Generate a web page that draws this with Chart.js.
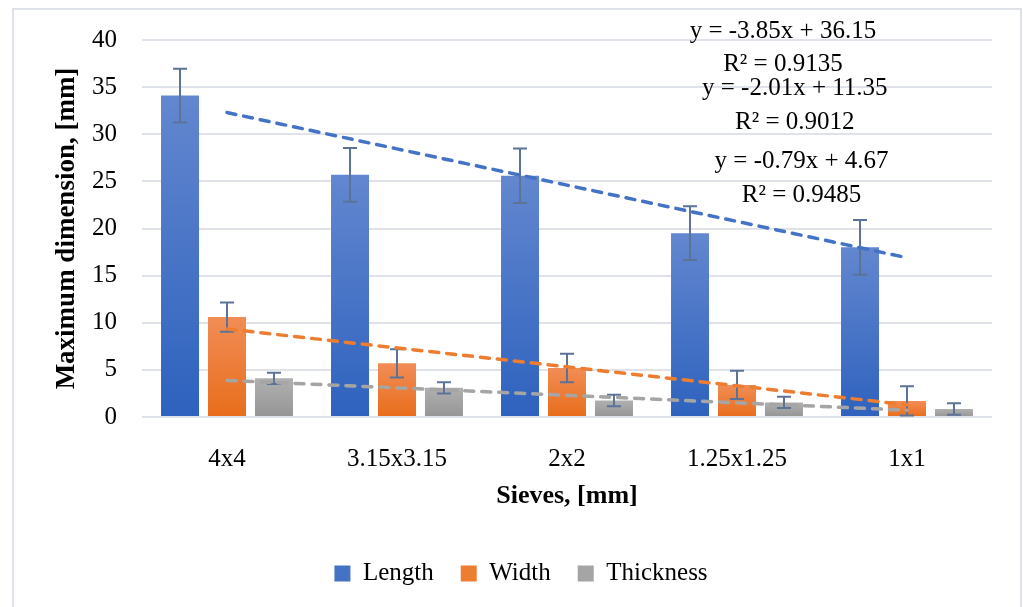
<!DOCTYPE html>
<html>
<head>
<meta charset="utf-8">
<script src="https://cdn.jsdelivr.net/npm/chart.js@4.4.1/dist/chart.umd.min.js"></script>
<style>
    html, body { margin: 0; padding: 0; background: #fff; overflow: hidden; }
    #frame { position: absolute; left: 12px; top: 8px; width: 1006px; height: 640px; border: 2px solid #dfe2e8; }
    #wrap { position: absolute; left: 0; top: 0; width: 1023px; height: 607px; }
</style>
</head>
<body>
<div id="frame"></div>
<div id="wrap"><canvas id="chart" width="1023" height="607"></canvas></div>
<script>
// values
const sieves = ['4x4', '3.15x3.15', '2x2', '1.25x1.25', '1x1'];

const lengthMean = [34.1, 25.7, 25.6, 19.5, 18.0];
const lengthErr = [2.85, 2.85, 2.9, 2.85, 2.9];
const widthMean = [10.6, 5.7, 5.2, 3.4, 1.7];
const widthErr = [1.55, 1.5, 1.5, 1.5, 1.55];
const thicknessMean = [4.1, 3.1, 1.75, 1.55, 0.85];
const thicknessErr = [0.6, 0.6, 0.6, 0.6, 0.6];

// linear trend lines as drawn in the picture
const lengthTrend = [32.3, 28.45, 24.6, 20.75, 16.9];
const widthTrend = [9.34, 7.33, 5.32, 3.31, 1.3];
const thicknessTrend = [3.88, 3.09, 2.3, 1.51, 0.72];

const trendText = [
    'y = -3.85x + 36.15', 'R² = 0.9135',
    'y = -2.01x + 11.35', 'R² = 0.9012',
    'y = -0.79x + 4.67', 'R² = 0.9485'
];

const yMin = 0;
const yMax = 40;
const yStep = 5;

const serif = '"Liberation Serif", "Times New Roman", serif';
const legendColors = ['#4472c4', '#ed7d31', '#a5a5a5'];

function barGradient(top, bottom) {
    return (ctx) => {
        const chart = ctx.chart;
        if (!chart.chartArea || ctx.type !== 'data' || !chart.scales.y) return bottom;
        const yTop = chart.scales.y.getPixelForValue(ctx.raw);
        const yBase = chart.scales.y.getPixelForValue(0);
        if (!isFinite(yTop) || yBase - yTop < 1) return bottom;
        const g = chart.ctx.createLinearGradient(0, yTop, 0, yBase);
        g.addColorStop(0, top);
        g.addColorStop(1, bottom);
        return g;
    };
}

const errorBars = {
    id: 'errorBars',
    afterDatasetDraw(chart, args) {
        const ds = chart.data.datasets[args.index];
        if (!ds.errors) return;
        const y = chart.scales.y;
        const c = chart.ctx;
        c.save();
        c.strokeStyle = '#5b7396';
        c.lineWidth = 2;
        args.meta.data.forEach((bar, i) => {
            const v = ds.data[i];
            const e = ds.errors[i];
            const hi = y.getPixelForValue(v + e);
            const lo = y.getPixelForValue(Math.max(0, v - e));
            c.beginPath();
            c.moveTo(bar.x, hi); c.lineTo(bar.x, lo);
            c.moveTo(bar.x - 7, hi); c.lineTo(bar.x + 7, hi);
            c.moveTo(bar.x - 7, lo); c.lineTo(bar.x + 7, lo);
            c.stroke();
        });
        c.restore();
    }
};

// where the trend equations sit, in axis units (x index, y value)
const eqAnchors = [[3.27, 40.9], [3.27, 37.4], [3.34, 34.9], [3.34, 31.3], [3.38, 27.1], [3.38, 23.5]];

const trendLabels = {
    id: 'trendLabels',
    afterDraw(chart) {
        const c = chart.ctx;
        const { x, y } = chart.scales;
        c.save();
        c.font = '25px ' + serif;
        c.fillStyle = '#000';
        c.textAlign = 'center';
        c.textBaseline = 'middle';
        trendText.forEach((t, i) => {
            c.fillText(t, x.getPixelForValue(eqAnchors[i][0]), y.getPixelForValue(eqAnchors[i][1]));
        });
        c.restore();
    }
};

function trendSet(label, data, color) {
    return {
        type: 'line',
        label: label,
        data: data,
        borderColor: color,
        borderWidth: 3.5,
        borderDash: [9, 8],
        borderCapStyle: 'round',
        pointRadius: 0,
        fill: false,
        tension: 0,
        order: 1,
    };
}

new Chart(document.getElementById('chart'), {
    type: 'bar',
    data: {
        labels: sieves,
        datasets: [{
            label: 'Length',
            data: lengthMean,
            errors: lengthErr,
            backgroundColor: barGradient('#6387cf', '#2e62be'),
            order: 2,
        }, {
            label: 'Width',
            data: widthMean,
            errors: widthErr,
            backgroundColor: barGradient('#f18d56', '#e86d1b'),
            order: 2,
        }, {
            label: 'Thickness',
            data: thicknessMean,
            errors: thicknessErr,
            backgroundColor: barGradient('#b0b0b0', '#959595'),
            order: 2,
        },
        trendSet('Linear (Length)', lengthTrend, '#4472c4'),
        trendSet('Linear (Width)', widthTrend, '#ed7d31'),
        trendSet('Linear (Thickness)', thicknessTrend, '#a5a5a5'),
        ]
    },
    plugins: [errorBars, trendLabels],
    options: {
        responsive: false,
        animation: false,
        devicePixelRatio: 1,
        categoryPercentage: 0.829,
        barPercentage: 0.809,
        layout: { padding: { top: 40, left: 50, right: 31, bottom: 11 } },
        plugins: {
            tooltip: { enabled: false },
            legend: {
                position: 'bottom',
                labels: {
                    font: { family: serif, size: 25 },
                    color: '#000',
                    boxWidth: 16,
                    boxHeight: 16,
                    padding: 27,
                    generateLabels(chart) {
                        return Chart.defaults.plugins.legend.labels.generateLabels(chart)
                            .filter(l => l.datasetIndex < 3)
                            .map(l => Object.assign(l, {
                                fillStyle: legendColors[l.datasetIndex],
                                strokeStyle: legendColors[l.datasetIndex],
                                lineWidth: 0,
                            }));
                    }
                }
            }
        },
        scales: {
            x: {
                grid: { display: false },
                border: { display: false },
                ticks: { font: { family: serif, size: 25 }, color: '#000', padding: 19, maxRotation: 0 },
                title: {
                    display: true,
                    text: 'Sieves, [mm]',
                    font: { family: serif, size: 26, weight: 'bold' },
                    color: '#000',
                    padding: { top: 0, bottom: 22 },
                },
                afterFit(scale) { scale.height = 117; },
            },
            y: {
                min: yMin,
                max: yMax,
                grid: { color: '#dfe2e8', lineWidth: 2, drawTicks: false },
                border: { display: false },
                ticks: { stepSize: yStep, font: { family: serif, size: 25 }, color: '#000', padding: 25 },
                title: {
                    display: true,
                    text: 'Maximum dimension, [mm]',
                    font: { family: serif, size: 27, weight: 'bold' },
                    color: '#000',
                    padding: { top: 1, bottom: 0 },
                },
                afterFit(scale) { scale.width = 92; },
            }
        }
    }
});
</script>
</body>
</html>
